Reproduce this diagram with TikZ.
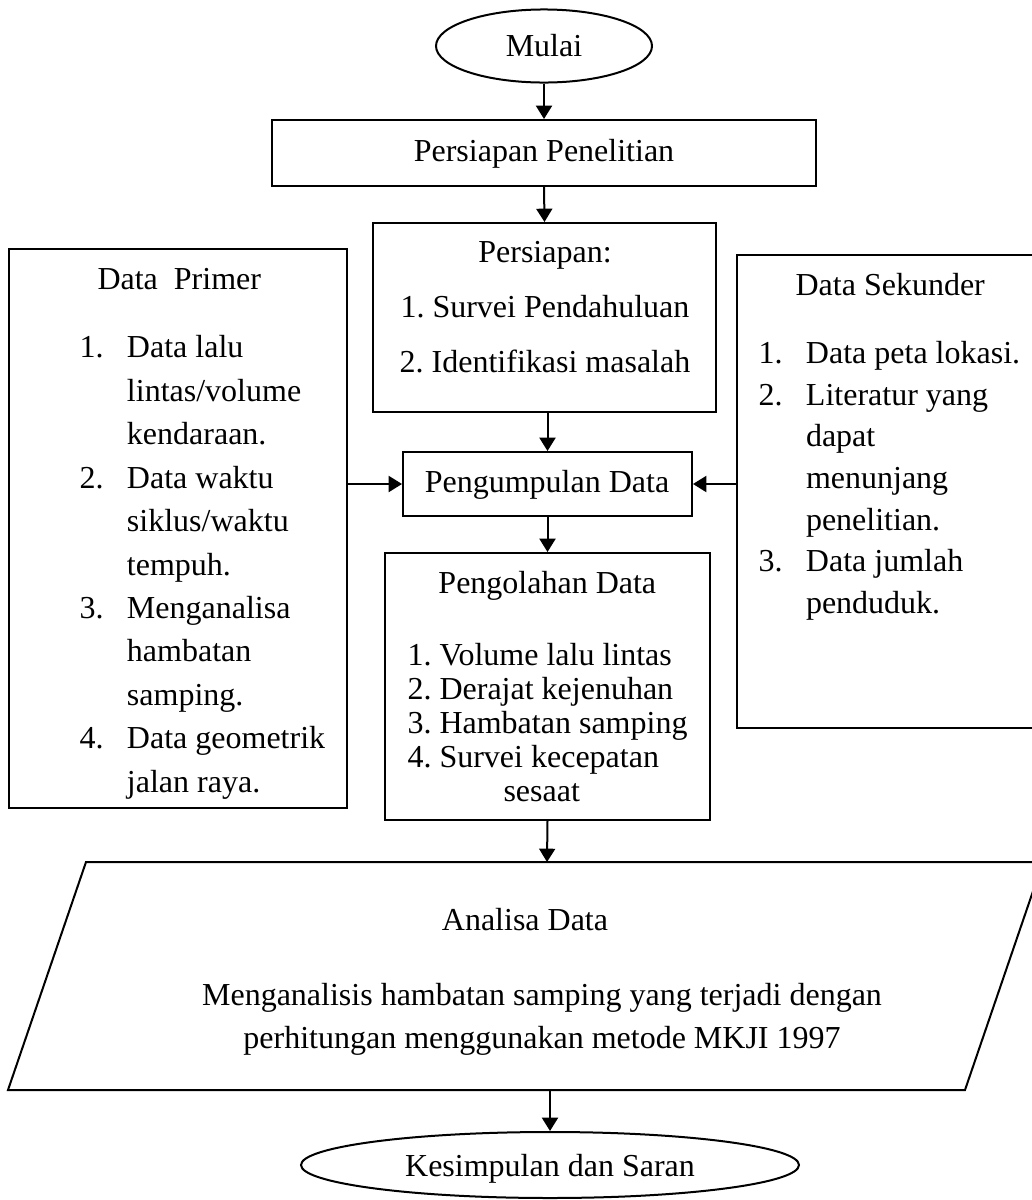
\documentclass[tikz,border=0pt]{standalone}
\usepackage{fontspec}
\setmainfont{Liberation Serif}
\usetikzlibrary{shapes.geometric,arrows.meta,fit}
\frenchspacing

\newcommand{\numbox}[1]{\makebox[17.8pt][l]{#1}}
\newcommand{\contln}{\hspace*{17.8pt}}

\begin{document}
\begin{tikzpicture}[x=0.375pt,y=-0.375pt,
    every node/.style={font=\fontsize{12}{14}\selectfont, inner sep=0pt},
    box/.style={draw, line width=0.75pt, rectangle},
    oval/.style={draw, line width=0.75pt, ellipse},
    arr/.style={line width=0.75pt, -{Triangle[length=5pt,width=6pt]}}]

  \useasboundingbox (0,0) rectangle (1032,1200);

  % start / end
  \node[oval, minimum width=81pt, minimum height=27.4pt] (mulai) at (544,46) {Mulai};
  \node[oval, minimum width=186.75pt, minimum height=24.75pt] (kes) at (550,1165) {};
  \node (kestxt) at (550,1169) {Kesimpulan dan Saran};

  % boxes
  \node[box, fit={(272,120) (816,186)}] (prep) {};
  \node[box, fit={(373,223) (716,412)}] (pers) {};
  \node[box, fit={(403,452) (692,516)}] (kumpul) {};
  \node[box, fit={(385,553) (710,820)}] (olah) {};
  \node[box, fit={(9,249) (347,808)}] (primer) {};
  \node[box, fit={(737,255) (1034,728)}] (seku) {};

  % texts in the boxes
  \node (preptxt) at (544,154) {Persiapan Penelitian};
  \node (kumpultxt) at (547,485) {Pengumpulan Data};

  \node[align=center, anchor=north, font=\fontsize{12}{20.6}\selectfont] (perstxt) at (545,241)
    {Persiapan:\\1. Survei Pendahuluan\\2. Identifikasi masalah};

  \node[align=left, anchor=north west, font=\fontsize{12}{16.3}\selectfont] (primtxt) at (79,268)
    {\hspace*{6.75pt}Data\ \ Primer\\[9.2pt]
     \numbox{1.}Data lalu\\
     \contln lintas/volume\\
     \contln kendaraan.\\
     \numbox{2.}Data waktu\\
     \contln siklus/waktu\\
     \contln tempuh.\\
     \numbox{3.}Menganalisa\\
     \contln hambatan\\
     \contln samping.\\
     \numbox{4.}Data geometrik\\
     \contln jalan raya.};

  \node[align=left, anchor=north west, font=\fontsize{12}{15.6}\selectfont] (sektxt) at (758,273)
    {\hspace*{13.9pt}Data Sekunder\\[9.9pt]
     \numbox{1.}Data peta lokasi.\\
     \numbox{2.}Literatur yang\\
     \contln dapat\\
     \contln menunjang\\
     \contln penelitian.\\
     \numbox{3.}Data jumlah\\
     \contln penduduk.};

  \node[align=left, anchor=north west, font=\fontsize{12}{12.75}\selectfont] (olahtxt) at (407,571)
    {\hspace*{11.6pt}Pengolahan Data\\[14.25pt]
     1. Volume lalu lintas\\
     2. Derajat kejenuhan\\
     3. Hambatan samping\\
     4. Survei kecepatan\\
     \hspace*{36pt}sesaat};

  % analysis
  \draw[line width=0.75pt] (8,1090) -- (86,862) -- (1043,862) -- (965,1090) -- cycle;
  \coordinate (antop) at (547,862);
  \coordinate (anbot) at (550,1090);
  \node[align=center, anchor=north, font=\fontsize{12}{16.1}\selectfont] (antxt) at (542,908)
    {Analisa Data\hspace*{12.75pt}\\[12pt]
     Menganalisis hambatan samping yang terjadi dengan\\
     perhitungan menggunakan metode MKJI 1997};

  % arrows
  \draw[arr] (mulai.south) -- (prep.north);
  \draw[arr] (prep.south) -- (pers.north);
  \draw[arr] (pers.south -| kumpul.north) -- (kumpul.north);
  \draw[arr] (kumpul.south) -- (olah.north);
  \draw[arr] (primer.east |- kumpul.west) -- (kumpul.west);
  \draw[arr] (seku.west |- kumpul.east) -- (kumpul.east);
  \draw[arr] (olah.south) -- (antop);
  \draw[arr] (anbot) -- (kes.north);

\end{tikzpicture}
\end{document}
